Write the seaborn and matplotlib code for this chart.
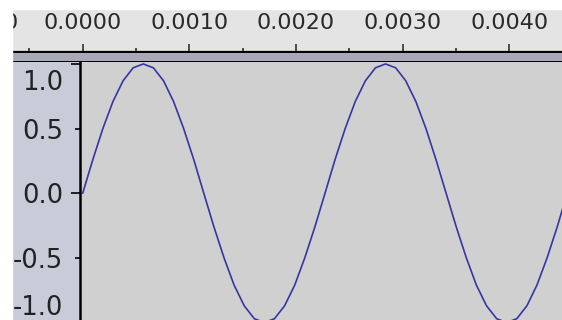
import matplotlib
matplotlib.use("Agg")
import matplotlib.pyplot as plt
import matplotlib.transforms as mtransforms
import seaborn as sns

# samples of the waveform (seconds, amplitude)
time_s = [0.000000, 0.000095, 0.000189, 0.000284, 0.000379, 0.000473, 0.000568,
          0.000663, 0.000758, 0.000852, 0.000947, 0.001042, 0.001136, 0.001231,
          0.001326, 0.001420, 0.001515, 0.001610, 0.001705, 0.001799, 0.001894,
          0.001989, 0.002083, 0.002178, 0.002273, 0.002367, 0.002462, 0.002557,
          0.002652, 0.002746, 0.002841, 0.002936, 0.003030, 0.003125, 0.003220,
          0.003314, 0.003409, 0.003504, 0.003599, 0.003693, 0.003788, 0.003883,
          0.003977, 0.004072, 0.004167, 0.004261, 0.004356, 0.004451, 0.004545]
amplitude = [0.00, 0.26, 0.50, 0.71, 0.87, 0.97, 1.00, 0.97, 0.87, 0.71, 0.50, 0.26,
             0.00, -0.26, -0.50, -0.71, -0.87, -0.97, -1.00, -0.97, -0.87, -0.71, -0.50, -0.26,
             0.00, 0.26, 0.50, 0.71, 0.87, 0.97, 1.00, 0.97, 0.87, 0.71, 0.50, 0.26,
             0.00, -0.26, -0.50, -0.71, -0.87, -0.97, -1.00, -0.97, -0.87, -0.71, -0.50, -0.26,
             0.00]

ruler_ticks = [0.000, 0.001, 0.002, 0.003, 0.004]
ruler_minor = [-0.0005, 0.0005, 0.0015, 0.0025, 0.0035, 0.0045]
ruler_labels = ["%.4f" % t for t in ruler_ticks]
offscreen_tick = -0.001   # its label is mostly hidden behind the left edge

sns.set_style("white")
plt.rcParams["font.family"] = ["DejaVu Sans"]

W, H = 562, 320
fig = plt.figure(figsize=(W / 100, H / 100), dpi=100, facecolor="#e4e4e4")

# time ruler
ruler = fig.add_axes([0, 1 - 52 / H, 1, 16 / H])
ruler.set_facecolor("#e4e4e4")
ruler.set_xticks(ruler_ticks)
ruler.set_xticklabels(ruler_labels)
ruler.set_xticks(ruler_minor, minor=True)
ruler.set_xlim(-0.000776, 0.004496)
ruler.set_ylim(0, 1)
ruler.set_yticks([])
for s in ["top", "left", "right"]:
    ruler.spines[s].set_visible(False)
ruler.spines["bottom"].set_color("black")
ruler.spines["bottom"].set_linewidth(1.6)
ruler.tick_params(axis="x", which="both", direction="in", bottom=True, top=False,
                  labelbottom=False, labeltop=True, color="#222222", width=1.1)
ruler.tick_params(axis="x", which="major", length=5.8, labelsize=16,
                  labelcolor="#2a2a2a", pad=2.5)
ruler.tick_params(axis="x", which="minor", length=3.0)
lab_tr = ruler.get_xaxis_transform() + mtransforms.ScaledTranslation(0, 2.5 / 72, fig.dpi_scale_trans)
ruler.text(offscreen_tick, 1, "%.4f" % offscreen_tick, transform=lab_tr, ha="center",
           va="bottom", fontsize=16, color="#2a2a2a", clip_on=False)

# dark band under the ruler
band = fig.add_axes([0, 1 - 62 / H, 1, 10 / H])
band.set_facecolor("#a8a8b8")
band.set_xticks([])
band.set_yticks([])
for s in ["left", "right"]:
    band.spines[s].set_visible(False)
for s in ["top", "bottom"]:
    band.spines[s].set_color("black")
    band.spines[s].set_linewidth(1.4)

# left panel behind the amplitude labels
panel = fig.add_axes([0, 0, 80 / W, 258 / H])
panel.set_axis_off()
panel.add_patch(plt.Rectangle((0, 0), 1, 1, transform=panel.transAxes, color="#c8cbd8"))

# waveform
ax = fig.add_axes([80 / W, 0, 482 / W, 258 / H])
ax.set_facecolor("#d0d0d0")
sns.lineplot(x=time_s, y=amplitude, ax=ax, color="#3636a2", linewidth=1.2)
ax.set_xticks([])
ax.set_yticks([0.0, 1.0])
ax.set_yticklabels(["0.0", ""])
ax.set_yticks([-0.5, 0.5], minor=True)
ax.set_yticklabels(["-0.5", "0.5"], minor=True)
ax.set_xlim(-0.0000253, 0.004496)
ax.set_ylim(-0.98, 1.015)
ax.tick_params(axis="y", which="both", left=True, direction="out", color="#111111",
               width=1.3, labelsize=18.6, labelcolor="#222222")
ax.tick_params(axis="y", which="major", length=6.5, pad=5.8)
ax.tick_params(axis="y", which="minor", length=3.6, pad=8.7)
for s in ["top", "right", "bottom"]:
    ax.spines[s].set_visible(False)
ax.spines["left"].set_color("black")
ax.spines["left"].set_linewidth(1.8)
ax.text(-0.0353, 0.9186, "1.0", transform=ax.transAxes, ha="right", va="center",
        fontsize=18.6, color="#222222")
ax.text(-0.0353, 0.0465, "-1.0", transform=ax.transAxes, ha="right", va="center",
        fontsize=18.6, color="#222222")

# white border along the top and left edges of the screenshot
fig.add_artist(plt.Rectangle((0, 0), 12 / W, 1, transform=fig.transFigure,
                             color="white", zorder=10))
fig.add_artist(plt.Rectangle((0, 1 - 9 / H), 1, 9 / H, transform=fig.transFigure,
                             color="white", zorder=10))

fig.savefig("out.png", dpi=100, facecolor=fig.get_facecolor())
